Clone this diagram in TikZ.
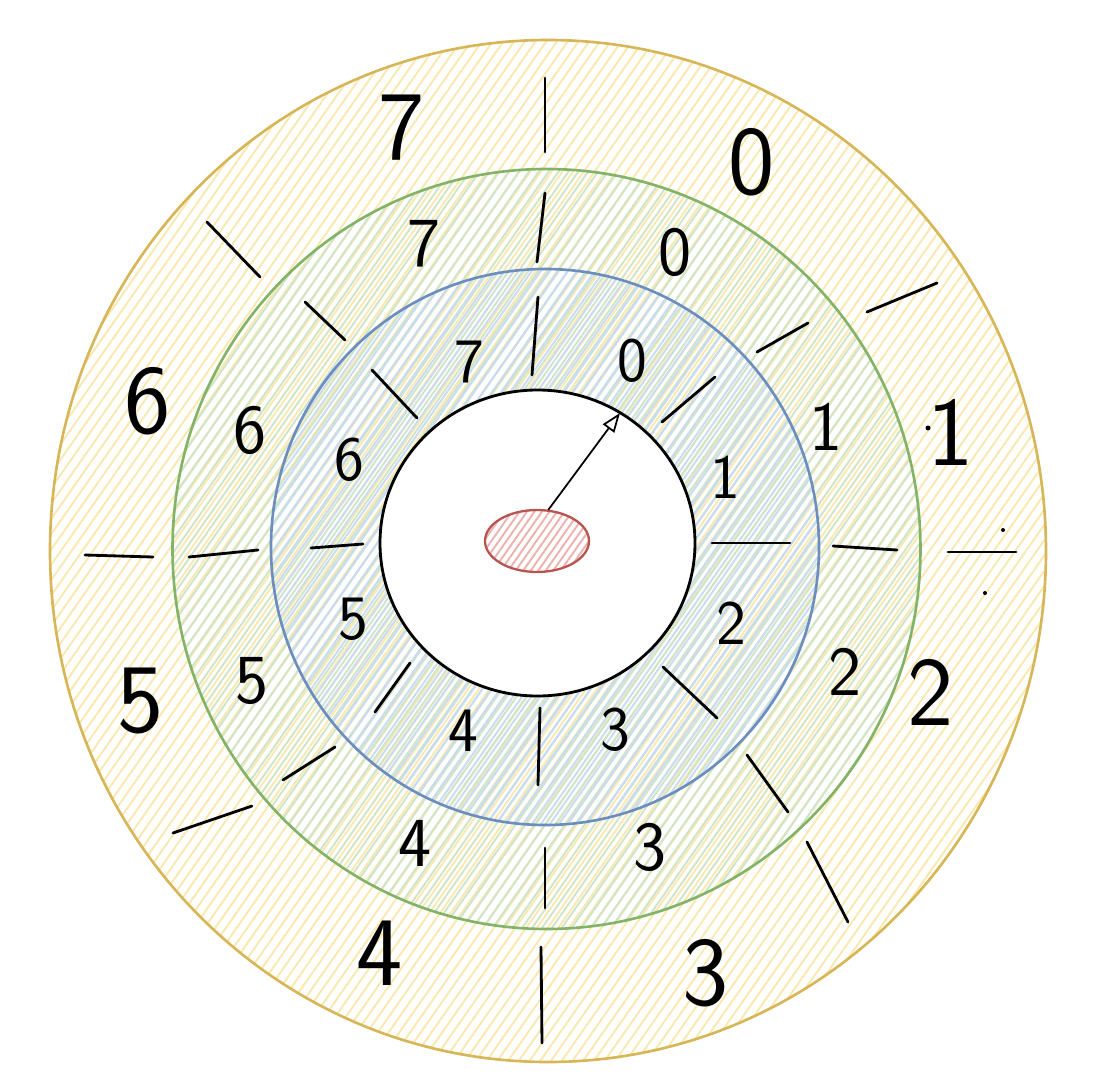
\documentclass[tikz,border=0pt]{standalone}
\usetikzlibrary{patterns.meta,shapes.geometric,arrows.meta}
\definecolor{ylwline}{HTML}{D6B656}
\definecolor{ylwhatch}{HTML}{F9E8B0}
\definecolor{grnline}{HTML}{82B366}
\definecolor{grnhatch}{HTML}{CFE4C8}
\definecolor{bluline}{HTML}{6C8EBF}
\definecolor{bluhatch}{HTML}{C8DBF3}
\definecolor{redline}{HTML}{B85450}
\definecolor{redhatch}{HTML}{EDB2B0}
\begin{document}
\begin{tikzpicture}[x=0.02cm,y=-0.02cm,
  ring/.style={line width=1.5pt},
  hatch/.style={pattern={Lines[angle=55,distance=#1,line width=1.1pt]}},
  tick/.style={line width=1.6pt,line cap=round},
  outernum/.style={font=\sffamily\fontsize{56}{56}\selectfont,inner sep=0pt},
  midnum/.style={font=\sffamily\fontsize{40}{40}\selectfont,inner sep=0pt},
  innernum/.style={font=\sffamily\fontsize{36}{36}\selectfont,inner sep=0pt},
  pointer/.style={line width=1pt,-{Triangle[open,length=11pt,width=8pt]}}]
  \useasboundingbox (0,0) rectangle (1110,1082);
  \draw[ring,draw=ylwline,hatch=5pt,pattern color=ylwhatch](548,551) ellipse[x radius=498,y radius=511];
  \draw[ring,draw=grnline,hatch=4.6pt,pattern color=grnhatch](546.5,549) ellipse[x radius=374,y radius=380];
  \draw[ring,draw=bluline,hatch=4.2pt,pattern color=bluhatch](545,547) ellipse[x radius=274,y radius=278];
  \draw[line width=1.6pt,fill=white](537.5,543) ellipse[x radius=157.5,y radius=153];
  \node[ellipse,draw=redline,line width=1.3pt,hatch=3.5pt,pattern color=redhatch,minimum width=2.08cm,minimum height=1.24cm] (hand) at (537,541) {};
  \coordinate (slot) at (620,413);
  \draw[pointer] (hand.70) -- (slot);
  \draw[tick](545,78)--(545,152);
  \draw[tick](867,312)--(937,283);
  \draw[tick](948,552)--(1016,552);
  \draw[tick](807,842)--(848,922);
  \draw[tick](541,947)--(542,1043);
  \draw[tick](173,833)--(252,806);
  \draw[tick](85,555)--(153,557);
  \draw[tick](207,222)--(260,277);
  \draw[tick](545,193)--(537,262);
  \draw[tick](757,352)--(808,323);
  \draw[tick](833,546)--(897,550);
  \draw[tick](747,755)--(788,812);
  \draw[tick](545,848)--(545,908);
  \draw[tick](283,780)--(335,747);
  \draw[tick](189,557)--(258,550);
  \draw[tick](305,302)--(345,340);
  \draw[tick](538,297)--(532,375);
  \draw[tick](662,422)--(715,377);
  \draw[tick](712,543)--(790,543);
  \draw[tick](663,667)--(717,718);
  \draw[tick](540,708)--(538,785);
  \draw[tick](375,712)--(410,663);
  \draw[tick](311,548)--(363,544);
  \draw[tick](372,370)--(417,418);
  \fill(928,428) circle[radius=2.5];
  \fill(1003,530) circle[radius=2];
  \fill(985,593) circle[radius=2];
  \node[outernum] (o0) at (752,162) {0};
  \node[outernum] (o1) at (951,432) {1};
  \node[outernum] (o2) at (931,692) {2};
  \node[outernum] (o3) at (706,973) {3};
  \node[outernum] (o4) at (380,953) {4};
  \node[outernum] (o5) at (141,701) {5};
  \node[outernum] (o6) at (148,401) {6};
  \node[outernum] (o7) at (402,128) {7};
  \node[midnum] (m0) at (675,252) {0};
  \node[midnum] (m1) at (826,427) {1};
  \node[midnum] (m2) at (845,672) {2};
  \node[midnum] (m3) at (650,847) {3};
  \node[midnum] (m4) at (415,843) {4};
  \node[midnum] (m5) at (252,681) {5};
  \node[midnum] (m6) at (250,430) {6};
  \node[midnum] (m7) at (424,244) {7};
  \node[innernum] (i0) at (632,361) {0};
  \node[innernum] (i1) at (725,477) {1};
  \node[innernum] (i2) at (731,623) {2};
  \node[innernum] (i3) at (615,730) {3};
  \node[innernum] (i4) at (463,731) {4};
  \node[innernum] (i5) at (353,619) {5};
  \node[innernum] (i6) at (349,460) {6};
  \node[innernum] (i7) at (469,362) {7};
\end{tikzpicture}
\end{document}
